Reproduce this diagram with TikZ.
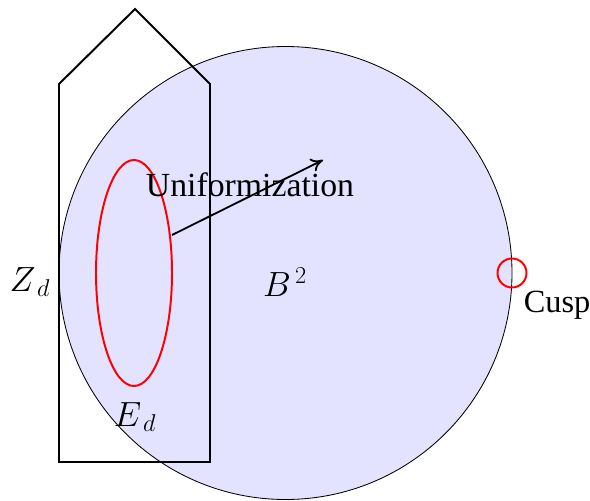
\documentclass[tikz,border=0pt]{standalone}
\usepackage{fontspec}
\setmainfont{Liberation Serif}
\usetikzlibrary{arrows.meta, positioning, shapes.geometric}

\begin{document}
\begin{tikzpicture}[x=0.025cm, y=-0.025cm,
    ball/.style={draw=black, line width=0.6pt, fill=blue!11},
    hull/.style={draw=black, line width=1.4pt, line join=miter},
    curve/.style={draw=red, line width=1.4pt},
    arrow/.style={-{To[length=3mm, width=3.5mm]}, line width=1.3pt},
    lbl/.style={font=\fontsize{23}{26}\selectfont, inner sep=0pt}
]
    \useasboundingbox (0,0) rectangle (590,500);

    % ball and the divisor
    \node[ball, circle, minimum size=453*0.025cm, inner sep=0pt] (ball) at (285.5,273) {};
    \draw[hull] (59,462) -- (59,84) -- (135,9) -- (210,84) -- (210,462) -- cycle;
    \node[curve, ellipse, minimum width=76*0.025cm, minimum height=226*0.025cm, inner sep=0pt] (ell) at (134,273) {};
    \node[curve, circle, minimum size=29*0.025cm, inner sep=0pt] (cusp) at (512,273) {};

    \coordinate (src) at (172,235);
    \coordinate (dst) at (323,160);
    \draw[arrow] (src) -- (dst);

    % labels
    \node[lbl, font=\fontsize{24}{27}\selectfont] (unif) at (250,185) {Uniformization};
    \node[lbl, font=\fontsize{24}{27}\selectfont] (zd) at (30,282) {$Z_{\,d}$};
    \node[lbl, font=\fontsize{24}{27}\selectfont] (b2) at (285,282) {$B^{\,2}$};
    \node[lbl, font=\fontsize{24}{27}\selectfont] (ed) at (135,417) {$E_{\,d}$};
    \node[lbl] (cusplbl) at (557,305) {Cusp};
\end{tikzpicture}
\end{document}
